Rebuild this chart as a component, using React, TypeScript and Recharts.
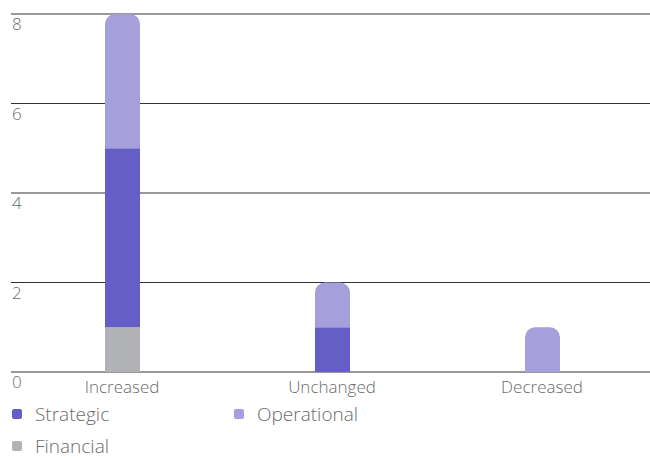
import React from "react";
import { Bar, BarChart, CartesianGrid, XAxis, YAxis } from "recharts";

const categories = ["Increased", "Unchanged", "Decreased"];
const financial = [1, 0, 0];
const strategic = [4, 1, 0];
const operational = [3, 1, 1];
const yTicks = [0, 2, 4, 6, 8];

const COLORS = {
  strategic: "#665ec7",
  operational: "#a59fdc",
  financial: "#b0b2b6",
};

const FONT = "'Open Sans', 'Helvetica Neue', Arial, sans-serif";
const TEXT = "#6b6b6b";

const data = categories.map((name, i) => ({
  name,
  financial: financial[i],
  strategic: strategic[i],
  operational: operational[i],
}));

const legendItems = [
  { label: "Strategic", color: COLORS.strategic },
  { label: "Operational", color: COLORS.operational },
  { label: "Financial", color: COLORS.financial },
];

function YTick(props: any) {
  const { y, payload } = props;
  return (
    <text x={12} y={y + 16} fill={TEXT} fontSize={17} fontWeight={300} fontFamily={FONT} textAnchor="start">
      {payload.value}
    </text>
  );
}

function XTick(props: any) {
  const { x, y, payload } = props;
  return (
    <text x={x} y={y + 13} fill={TEXT} fontSize={17} fontWeight={300} fontFamily={FONT} textAnchor="middle">
      {payload.value}
    </text>
  );
}

export default function App() {
  return (
    <div style={{ position: "absolute", left: 0, top: 0, width: 650, height: 458, background: "#fff" }}>
      <BarChart width={650} height={400} data={data} margin={{ top: 14, right: 0, left: 11, bottom: 0 }} barSize={35}>
        <CartesianGrid vertical={false} stroke="#333" strokeWidth={1} />
        <XAxis
          dataKey="name"
          height={28}
          axisLine={false}
          tickLine={false}
          padding={{ left: 6, right: 3 }}
          tick={<XTick />}
          interval={0}
        />
        <YAxis
          width={1}
          mirror
          domain={[0, 8]}
          ticks={yTicks}
          axisLine={false}
          tickLine={false}
          tick={<YTick />}
        />
        <Bar dataKey="financial" stackId="a" fill={COLORS.financial} isAnimationActive={false} />
        <Bar dataKey="strategic" stackId="a" fill={COLORS.strategic} isAnimationActive={false} />
        <Bar dataKey="operational" stackId="a" fill={COLORS.operational} radius={[10, 10, 0, 0]} isAnimationActive={false} />
      </BarChart>
      <div
        style={{
          position: "absolute",
          left: 12,
          top: 402,
          width: 460,
          display: "grid",
          gridTemplateColumns: "222px 222px",
          rowGap: 8,
          fontFamily: FONT,
          fontWeight: 300,
          fontSize: 19,
          color: TEXT,
        }}
      >
        {legendItems.map((it) => (
          <div key={it.label} style={{ display: "flex", alignItems: "center", height: 24 }}>
            <span
              style={{
                display: "inline-block",
                width: 10,
                height: 10,
                borderRadius: 2,
                background: it.color,
                marginRight: 13,
              }}
            />
            {it.label}
          </div>
        ))}
      </div>
    </div>
  );
}
